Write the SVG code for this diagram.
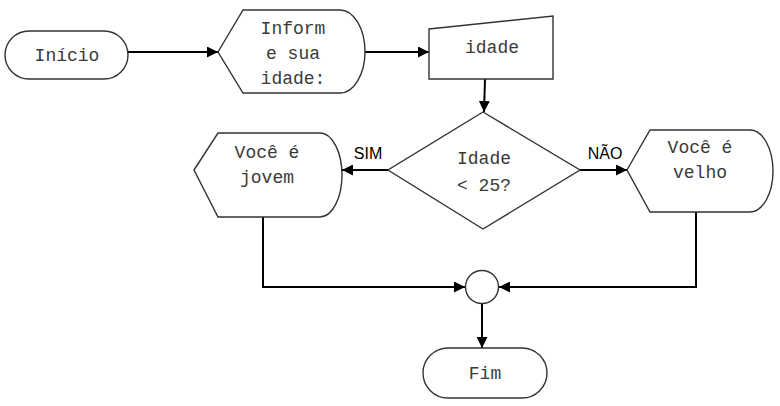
<svg xmlns="http://www.w3.org/2000/svg" width="780" height="406" viewBox="0 0 780 406">
<defs>
<marker id="ah" viewBox="0 0 10 10" refX="10" refY="5" markerWidth="11" markerHeight="11" markerUnits="userSpaceOnUse" orient="auto">
<path d="M0,0 L10,5 L0,10 z" fill="#000"/>
</marker>
<style>
.s{fill:#fff;stroke:#333;stroke-width:1.4}
.t{font-family:"Liberation Mono","Courier New",monospace;font-size:18px;fill:#3a3a3a;text-anchor:middle}
.l{font-family:"Liberation Sans",Arial,sans-serif;font-size:16px;fill:#000;text-anchor:middle}
.c{fill:none;stroke:#000;stroke-width:2}
</style>
</defs>
<rect width="780" height="406" fill="#fff"/>
<g id="connectors">
<path class="c" d="M128,52 L218,52" marker-end="url(#ah)"/>
<path class="c" d="M365,52 L429,52" marker-end="url(#ah)"/>
<path class="c" d="M485,79 L484,112" marker-end="url(#ah)"/>
<path class="c" d="M388,170 L342,170" marker-end="url(#ah)"/>
<path class="c" d="M580,170 L627,170" marker-end="url(#ah)"/>
<path class="c" d="M263,217 L263,287 L465,287" marker-end="url(#ah)"/>
<path class="c" d="M696,212 L696,287 L499,287" marker-end="url(#ah)"/>
<path class="c" d="M482,304 L482,348" marker-end="url(#ah)"/>
<text class="l" x="368" y="159">SIM</text>
<text class="l" x="605" y="159">NÃO</text>
</g>
<g id="inicio">
<rect class="s" x="5" y="31" width="123" height="48" rx="24" ry="24"/>
<text class="t" x="67" y="61">Início</text>
</g>
<g id="inform">
<path class="s" d="M218,52 L243,10 L340,10 A25,41.5 0 0 1 340,93 L243,93 Z"/>
<text class="t" x="293" y="34">Inform</text>
<text class="t" x="293" y="59">e sua</text>
<text class="t" x="293" y="84">idade:</text>
</g>
<g id="idade">
<path class="s" d="M429,29 L553,16 L553,79 L429,79 Z"/>
<text class="t" x="492" y="53">idade</text>
</g>
<g id="decisao">
<path class="s" d="M483,112 L580,170 L483,229 L388,170 Z"/>
<text class="t" x="484" y="164">Idade</text>
<text class="t" x="484" y="191">&lt; 25?</text>
</g>
<g id="jovem">
<path class="s" d="M194,170 L218,133 L320,133 A22,42 0 0 1 320,217 L218,217 Z"/>
<text class="t" x="267" y="158">Você é</text>
<text class="t" x="267" y="183">jovem</text>
</g>
<g id="velho">
<path class="s" d="M627,170 L650,130 L750,130 A23,41 0 0 1 750,212 L650,212 Z"/>
<text class="t" x="700" y="153">Você é</text>
<text class="t" x="700" y="178">velho</text>
</g>
<g id="juncao">
<circle class="s" cx="482" cy="287" r="16.5"/>
</g>
<g id="fim">
<rect class="s" x="423" y="348" width="124" height="50" rx="25" ry="25"/>
<text class="t" x="485" y="379">Fim</text>
</g>
</svg>
